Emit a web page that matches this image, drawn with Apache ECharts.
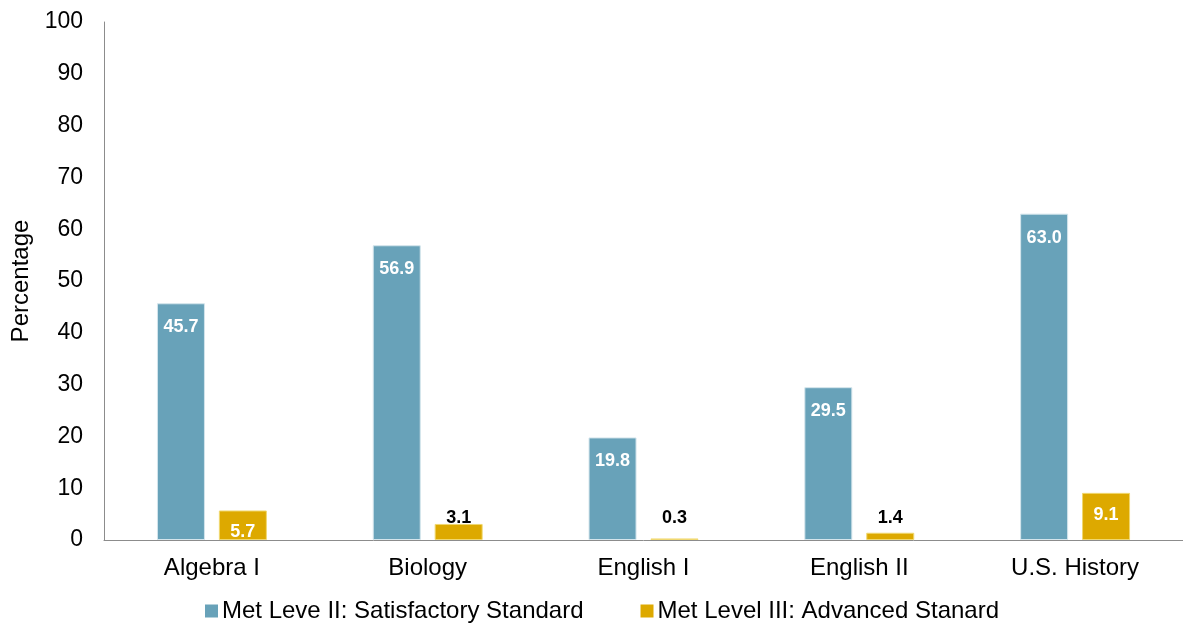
<!DOCTYPE html>
<html>
<head>
<meta charset="utf-8">
<style>
  html, body { margin: 0; padding: 0; background: #fff; }
  #chart { width: 1183px; height: 624px; }
</style>
<script src="https://cdn.jsdelivr.net/npm/echarts@6/dist/echarts.min.js"></script>
</head>
<body>
<div id="chart"></div>
<script>
// Test subjects and the share of students reaching each performance level
const subjects = ['Algebra I', 'Biology', 'English I', 'English II', 'U.S. History'];
const satisfactory = [45.7, 56.9, 19.8, 29.5, 63.0];
const advanced = [5.7, 3.1, 0.3, 1.4, 9.1];
const seriesNames = ['Met Leve II: Satisfactory Standard', 'Met Level III: Advanced Stanard'];
const yTicks = [0, 10, 20, 30, 40, 50, 60, 70, 80, 90, 100];

const FONT = 'Liberation Sans, Arial, sans-serif';
const BLUE = '#68A2B9';
const GOLD = '#DDA900';

// Short bars cannot hold their label, so it sits just above them in black
const advancedItems = advanced.map(v => v >= 5
  ? { value: v }
  : { value: v, label: { position: 'insideBottom', distance: 13, color: '#000' } });

const chart = echarts.init(document.getElementById('chart'));
chart.setOption({
  animation: false,
  grid: { left: 104, top: 22, bottom: 84, width: 1085, containLabel: false },
  legend: {
    top: 599,
    left: 205,
    padding: 0,
    itemWidth: 13,
    itemHeight: 13,
    itemGap: 57,
    icon: 'rect',
    itemStyle: { borderWidth: 0 },
    textStyle: { fontFamily: FONT, fontSize: 24, color: '#000', padding: [0, 0, 0, -1] },
    data: seriesNames
  },
  xAxis: {
    type: 'category',
    data: subjects,
    axisLine: { lineStyle: { color: '#8c8c8c', width: 1 } },
    axisTick: { show: false },
    axisLabel: { fontFamily: FONT, fontSize: 24, color: '#000', margin: 16 }
  },
  yAxis: {
    type: 'value',
    min: yTicks[0],
    max: yTicks[yTicks.length - 1],
    interval: yTicks[1] - yTicks[0],
    name: 'Percentage',
    nameLocation: 'middle',
    nameGap: 71,
    nameTextStyle: { fontFamily: FONT, fontSize: 24, color: '#000' },
    axisLine: { show: true, lineStyle: { color: '#8c8c8c', width: 1 } },
    axisTick: { show: false },
    splitLine: { show: false },
    axisLabel: { fontFamily: FONT, fontSize: 23, color: '#000', margin: 21 }
  },
  series: [
    {
      name: seriesNames[0],
      type: 'bar',
      data: satisfactory,
      barWidth: 48,
      barGap: '29%',
      itemStyle: { color: BLUE, borderColor: '#d4e5ec', borderWidth: 1 },
      label: {
        show: true,
        position: 'insideTop',
        distance: 15,
        color: '#fff',
        fontFamily: FONT,
        fontWeight: 'bold',
        fontSize: 18,
        formatter: p => p.value.toFixed(1)
      }
    },
    {
      name: seriesNames[1],
      type: 'bar',
      data: advancedItems,
      barWidth: 48,
      barGap: '29%',
      itemStyle: { color: GOLD, borderColor: '#f0d870', borderWidth: 1 },
      label: {
        show: true,
        position: 'insideTop',
        distance: 13,
        color: '#fff',
        fontFamily: FONT,
        fontWeight: 'bold',
        fontSize: 18,
        formatter: p => p.value.toFixed(1)
      }
    }
  ]
});
</script>
</body>
</html>
